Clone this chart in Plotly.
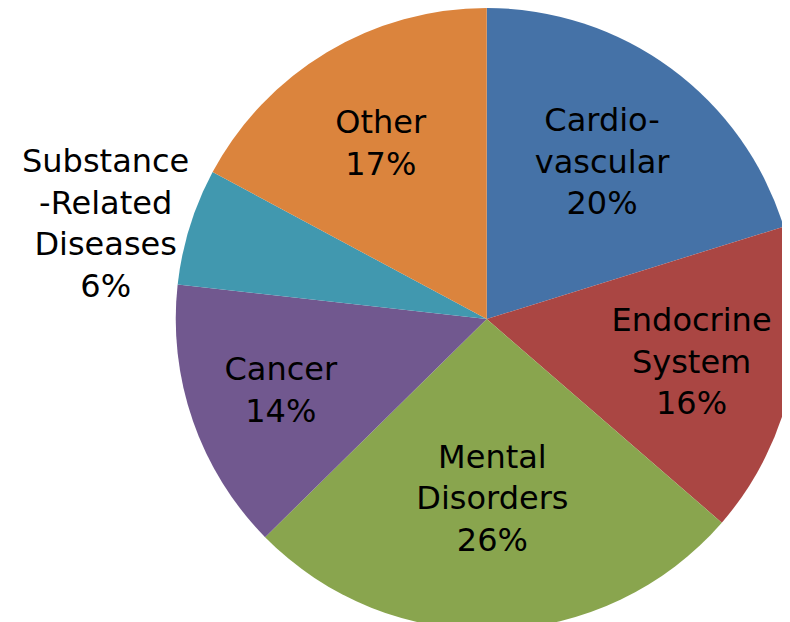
import plotly.graph_objects as go

labels = ["Cardio-<br>vascular", "Endocrine<br>System", "Mental<br>Disorders", "Cancer",
          "Substance<br>-Related<br>Diseases", "Other"]
values = [20, 16, 26, 14, 6, 17]
colors = ["#4572A7", "#AA4643", "#89A54E", "#71588F", "#4198AF", "#DB843D"]

total = sum(values)
pcts = [f"{round(v / total * 100)}%" for v in values]
texts = [f"{l}<br>{p}" for l, p in zip(labels, pcts)]
inside_texts = [t if i != 4 else "" for i, t in enumerate(texts)]

FONT = "DejaVu Sans, Liberation Sans, Arial, sans-serif"

fig = go.Figure(go.Pie(
    labels=labels,
    values=values,
    text=inside_texts,
    textinfo="text",
    textposition="inside",
    insidetextorientation="horizontal",
    sort=False,
    direction="clockwise",
    rotation=0,
    marker=dict(colors=colors, line=dict(width=0)),
    textfont=dict(family=FONT, size=32, color="black"),
    hoverinfo="label+percent",
    domain=dict(x=[0.212, 1.0], y=[0.0, 1.0]),
    showlegend=False,
))

fig.add_annotation(
    text=texts[4], x=97 / 790, y=1 - 215 / 622, xref="paper", yref="paper",
    xanchor="center", yanchor="middle",
    showarrow=False, font=dict(family=FONT, size=32, color="black"),
    align="center",
)

fig.update_layout(
    width=790, height=622,
    margin=dict(l=0, r=0, t=0, b=0),
    paper_bgcolor="white",
    plot_bgcolor="white",
    uniformtext=dict(minsize=32, mode="show"),
)

fig.write_html("out.html")
